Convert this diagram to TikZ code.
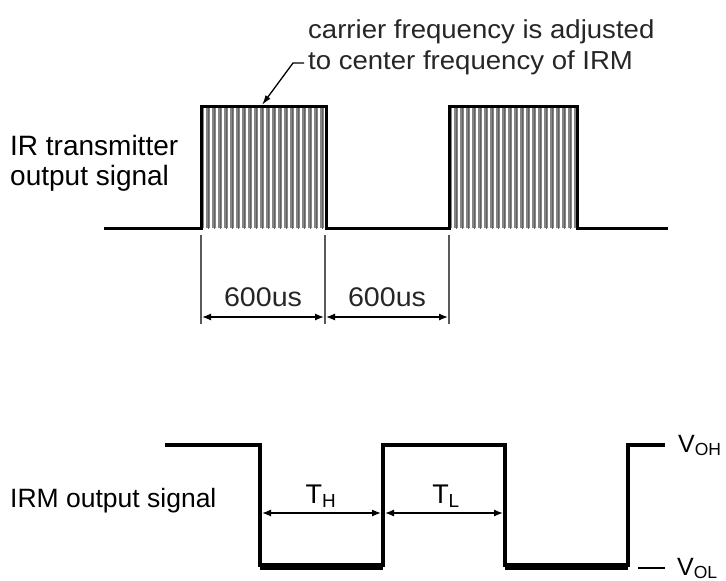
\documentclass[tikz,border=0pt]{standalone}
\usepackage{fontspec}
\setmainfont{Liberation Sans}
\usetikzlibrary{arrows.meta}
\begin{document}
\begin{tikzpicture}[x=1pt,y=-1pt,
  lbl/.style={anchor=base west,inner sep=0pt,font=\fontsize{26}{30}\selectfont},
  dimtxt/.style={anchor=base,inner sep=0pt,font=\fontsize{27}{30}\selectfont},
  sig/.style={line width=3pt,line join=miter},
  ext/.style={draw=black!65,line width=1.8pt},
  dim/.style={line width=1.3pt,{Latex[length=9pt,width=7pt]}-{Latex[length=9pt,width=7pt]}},
  pulsefill/.style={fill=black!48}]
\useasboundingbox (0,0) rectangle (726,581);
% ---------- top: IR transmitter signal ----------
\coordinate (b0) at (104,228);
\coordinate (p1a) at (201,228); \coordinate (p1b) at (201,106);
\coordinate (p1c) at (326,106); \coordinate (p1d) at (326,228);
\coordinate (p2a) at (449,228); \coordinate (p2b) at (449,106);
\coordinate (p2c) at (577,106); \coordinate (p2d) at (577,228);
\coordinate (b1) at (668,228);
% stripes
\foreach \xa/\xb in {201/326,449/577}{
  \begin{scope}
    \clip (\xa,106) rectangle (\xb,228);
    \fill[pulsefill] (\xa,106) rectangle (\xb,228);
    \foreach \x in {0,6,...,130}{
      \draw[white,line width=2.4pt] (\xa+4+\x,100) -- (\xa+4+\x,235);
      \draw[black!62,line width=1pt] (\xa+7+\x,100) -- (\xa+7+\x,235);
    }
  \end{scope}
}
\draw[sig] (b0) -- (p1a) -- (p1b) -- (p1c) -- (p1d) -- (p2a) -- (p2b) -- (p2c) -- (p2d) -- (b1);
% labels
\node[lbl,font=\fontsize{28}{30}\selectfont] (irt1) at (10,155) {IR transmitter};
\node[lbl,font=\fontsize{28}{30}\selectfont] (irt2) at (10,185) {output signal};
\node[lbl,text=black!85] (car1) at (308,38) {\scalebox{1.06}[1]{carrier frequency is adjusted}};
\node[lbl,text=black!85] (car2) at (308,69) {\scalebox{1.06}[1]{to center frequency of IRM}};
\coordinate (ld0) at (304,63);
\coordinate (ld1) at (293,63);
\coordinate (ldt) at (262,105);
\draw[line width=1.3pt,-{Latex[length=10pt,width=6pt]}] (ld0) -- (ld1) -- (ldt);
% dimension lines
\coordinate (e1t) at (201,235); \coordinate (e1b) at (201,324);
\coordinate (e2t) at (325,235); \coordinate (e2b) at (325,324);
\coordinate (e3t) at (449,235); \coordinate (e3b) at (449,324);
\draw[ext] (e1t) -- (e1b);
\draw[ext] (e2t) -- (e2b);
\draw[ext] (e3t) -- (e3b);
\coordinate (d1a) at (202,317); \coordinate (d1b) at (324,317);
\coordinate (d2a) at (326,317); \coordinate (d2b) at (448,317);
\draw[dim] (d1a) -- (d1b);
\draw[dim] (d2a) -- (d2b);
\node[dimtxt,text=black!85] (t1) at (263,306) {\scalebox{1.06}[1]{600us}};
\node[dimtxt,text=black!85] (t2) at (387,306) {\scalebox{1.06}[1]{600us}};
% ---------- bottom: IRM output signal ----------
\coordinate (q0) at (165,445);
\coordinate (q1) at (260,445); \coordinate (q2) at (260,565);
\coordinate (q3) at (383,565); \coordinate (q4) at (383,445);
\coordinate (q5) at (505,445); \coordinate (q6) at (505,565);
\coordinate (q7) at (628,565); \coordinate (q8) at (628,445);
\coordinate (q9) at (665,445);
\draw[line width=3.5pt] (q0) -- (q1) -- (q2) -- (q3) -- (q4) -- (q5) -- (q6) -- (q7) -- (q8) -- (q9);
\draw[line width=6pt] ([yshift=-1.5pt]q2) -- ([yshift=-1.5pt]q3);
\draw[line width=6pt] ([yshift=-1.5pt]q6) -- ([yshift=-1.5pt]q7);
\node[lbl,font=\fontsize{26.5}{30}\selectfont] (irm) at (10,507) {IRM output signal};
\coordinate (h1) at (262,513); \coordinate (h2) at (381,513);
\coordinate (h3) at (385,513); \coordinate (h4) at (503,513);
\draw[dim] (h1) -- (h2);
\draw[dim] (h3) -- (h4);
\node[dimtxt] (th) at (321,503) {T\textsubscript{H}};
\node[dimtxt] (tl) at (446,503) {T\textsubscript{L}};
\node[lbl,font=\fontsize{25}{30}\selectfont] (voh) at (678,452) {V\textsubscript{OH}};
\coordinate (vl0) at (638,568); \coordinate (vl1) at (665,568);
\draw[line width=1.3pt] (vl0) -- (vl1);
\node[lbl,font=\fontsize{25}{30}\selectfont] (vol) at (677,575) {V\textsubscript{OL}};
\end{tikzpicture}
\end{document}
